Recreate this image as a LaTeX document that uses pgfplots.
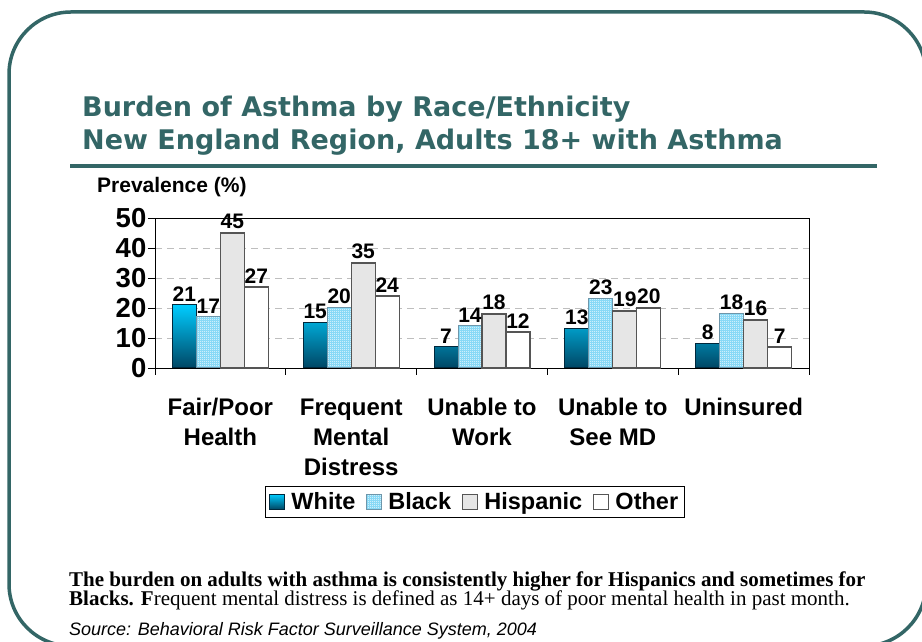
\documentclass[border=0pt]{standalone}
\usepackage{fontspec}
\setmainfont{Liberation Sans}
\newfontfamily\titlefont{DejaVu Sans}
\newfontfamily\notefont{Liberation Serif}
\usepackage{pgfplots}
\usepackage{pgfplotstable}
\pgfplotsset{compat=1.18}
\usetikzlibrary{patterns}

\definecolor{slate}{RGB}{51,102,102}
\definecolor{whitetop}{RGB}{0,204,255}
\definecolor{whitemid}{RGB}{0,175,225}
\definecolor{whitebot}{RGB}{0,70,100}
\definecolor{whiteedge}{RGB}{0,40,60}
\definecolor{blackfill}{RGB}{120,212,245}
\definecolor{blackedge}{RGB}{110,150,170}
\definecolor{hispfill}{RGB}{230,230,230}
\definecolor{baredge}{RGB}{85,85,85}
\definecolor{gridgray}{RGB}{190,190,190}

% fine checker texture for the Black series
\pgfdeclarepatternformonly{finecheck}{\pgfpointorigin}{\pgfqpoint{2pt}{2pt}}{\pgfqpoint{2pt}{2pt}}{%
  \pgfpathrectangle{\pgfpointorigin}{\pgfqpoint{1pt}{1pt}}%
  \pgfpathrectangle{\pgfqpoint{1pt}{1pt}}{\pgfqpoint{1pt}{1pt}}%
  \pgfusepath{fill}}

% prevalence (%) by measure (rows) and race/ethnicity (columns)
\pgfplotstableread{
x white black hispanic other
0 21 17 45 27
1 15 20 35 24
2 7  14 18 12
3 13 23 19 20
4 8  18 16 7
}\burden

\pgfplotsset{
  sq legend/.style={legend image code/.code={\draw[##1] (0pt,-7.5pt) rectangle (15pt,7.5pt);}},
}

\begin{document}
\begin{tikzpicture}[x=1pt,y=1pt]
\clip (0,0) rectangle (922,642);
\draw[slate, line width=3.5pt, rounded corners=62pt] (9,-4) rectangle (926,630);

\node[anchor=base west, inner sep=0, text=slate, font=\titlefont\bfseries\fontsize{27}{27}\selectfont] at (82,525) {Burden of Asthma by Race/Ethnicity};
\node[anchor=base west, inner sep=0, text=slate, font=\titlefont\bfseries\fontsize{27}{27}\selectfont] at (82,492) {New England Region, Adults 18+ with Asthma};
\draw[slate, line width=4pt] (70,476) -- (877,476);

\node[anchor=base west, inner sep=0, font=\bfseries\fontsize{21}{21}\selectfont] at (97,449) {Prevalence (\%)};

\begin{axis}[
  at={(155pt,274pt)}, anchor=south west,
  scale only axis, width=654pt, height=150pt,
  ybar=0pt, bar width=24pt,
  xmin=-0.5, xmax=4.5, ymin=0, ymax=50,
  clip=false,
  xtick={-0.5,0.5,...,4.5}, xticklabels={},
  extra x ticks={0,1,2,3,4},
  extra x tick labels={{Fair/Poor\\Health},{Frequent\\Mental\\Distress},{Unable to\\Work},{Unable to\\See MD},{Uninsured}},
  extra x tick style={major tick length=0pt,
    xticklabel style={font=\bfseries\fontsize{24}{30}\selectfont, align=center, anchor=north, yshift=-27pt}},
  ytick={0,10,...,50},
  tick align=outside, major tick length=7pt, tick pos=left,
  tick style={black, line width=0.8pt},
  axis line style={black, line width=0.8pt},
  ymajorgrids, grid style={gridgray, dash pattern=on 7pt off 5pt, line width=0.9pt},
  yticklabel style={font=\bfseries\fontsize{27.5}{27.5}\selectfont, inner sep=1.5pt},
  /pgf/number format/assume math mode=true,
  nodes near coords,
  every node near coord/.append style={text=black, font=\bfseries\fontsize{21}{21}\selectfont},
  legend columns=4,
  legend style={at={(0.489,-0.787)}, anchor=north, draw=black, line width=0.8pt,
    font=\bfseries\fontsize{23.5}{24}\selectfont, inner sep=4pt,
    /tikz/every odd column/.append style={column sep=4pt},
    /tikz/every even column/.append style={column sep=9pt}},
]
\addplot[sq legend, draw=whiteedge, line width=1pt, top color=whitetop, middle color=whitemid, bottom color=whitebot]
  table[x=x, y=white] {\burden};
\addplot[sq legend, draw=blackedge, line width=1pt, fill=blackfill, postaction={pattern=finecheck, pattern color=white}]
  table[x=x, y=black] {\burden};
\addplot[sq legend, draw=baredge, line width=1.2pt, fill=hispfill]
  table[x=x, y=hispanic] {\burden};
\addplot[sq legend, draw=baredge, line width=1.2pt, fill=white]
  table[x=x, y=other] {\burden};
\legend{White, Black, Hispanic, Other}
\end{axis}

\node[anchor=base west, inner sep=0, font=\notefont\bfseries\fontsize{21}{21}\selectfont] at (69,55)
  {The burden on adults with asthma is consistently higher for Hispanics and sometimes for};
\node[anchor=base west, inner sep=0, font=\notefont\fontsize{21}{21}\selectfont] at (69,36)
  {\textbf{Blacks. F}requent mental distress is defined as 14+ days of poor mental health in past month.};
\node[anchor=base west, inner sep=0, font=\itshape\fontsize{18}{18}\selectfont] at (69,6)
  {Source: Behavioral Risk Factor Surveillance System, 2004};
\end{tikzpicture}
\end{document}
